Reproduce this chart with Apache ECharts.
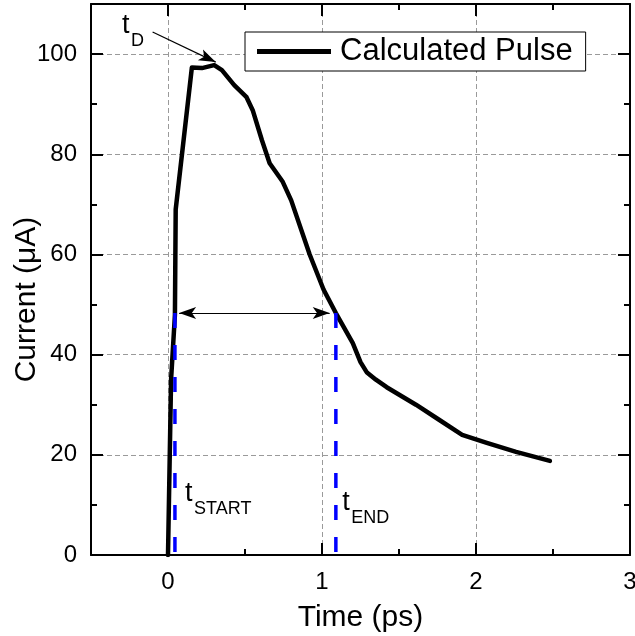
<!DOCTYPE html>
<html>
<head>
<meta charset="utf-8">
<script src="https://cdn.jsdelivr.net/npm/echarts@6/dist/echarts.min.js"></script>
<style>
html,body{margin:0;padding:0;background:#fff;}
#chart{width:635px;height:636px;}
</style>
</head>
<body>
<div id="chart"></div>
<script>
// ---- data ----
const timePs = [0, 0.02, 0.045, 0.05, 0.155, 0.22, 0.3, 0.35, 0.43, 0.51, 0.55, 0.61, 0.66, 0.745, 0.8, 0.92, 1.01, 1.09, 1.2, 1.25, 1.29, 1.35, 1.42, 1.61, 1.76, 1.91, 2.07, 2.26, 2.48];
const currentUA = [0, 35, 48, 69, 97.3, 97.2, 97.8, 96.8, 93.8, 91.4, 88.8, 82.8, 78.2, 74.5, 70.8, 60, 53, 48.3, 42.3, 38.5, 36.5, 35, 33.5, 30, 27, 24, 22.4, 20.6, 18.8];
const xTickLabels = [0, 1, 2, 3];
const yTickLabels = [0, 20, 40, 60, 80, 100];
const tStart = 0.045;
const tEnd = 1.09;
const halfLevel = 48.3;
const fwhmArrow = [0.072, 1.05];       // double arrow ends (ps)
const tdArrowFrom = [-0.1, 104.4];     // t_D pointer start
const tdArrowTo = [0.31, 98.4];        // t_D pointer tip
const annotations = [
  {main: 't', sub: 'D', at: [-0.299, 103.8]},
  {main: 't', sub: 'START', at: [0.111, 10.4]},
  {main: 't', sub: 'END', at: [1.132, 8.6]}
];

const FONT = '"Liberation Sans", Arial, sans-serif';
const pulse = timePs.map((t, i) => [t, currentUA[i]]);

const chart = echarts.init(document.getElementById('chart'), null, {renderer: 'canvas'});

function xAxisDef(pos, major) {
  return {
    type: 'value', min: -0.5, max: 3, interval: 0.5, position: pos,
    axisLine: {show: major, onZero: false, lineStyle: {color: '#000', width: 2}},
    axisTick: major ? {show: true, inside: true, length: 12, lineStyle: {color: '#000', width: 2}, customValues: xTickLabels}
                    : {show: true, inside: true, length: 6, lineStyle: {color: '#000', width: 2}},
    axisLabel: (major && pos === 'bottom') ? {show: true, customValues: xTickLabels, fontSize: 24, color: '#000', fontFamily: FONT, margin: 15} : {show: false},
    splitLine: (major && pos === 'bottom') ? {show: true, lineStyle: {color: '#9a9a9a', width: 1, type: [5, 3]}} : {show: false},
    name: (major && pos === 'bottom') ? 'Time (ps)' : '',
    nameLocation: 'middle', nameGap: 48, nameMoveOverlap: false,
    nameTextStyle: {fontSize: 30, color: '#000', fontFamily: FONT}
  };
}
function yAxisDef(pos, major) {
  return {
    type: 'value', min: 0, max: 110, interval: 10, position: pos,
    axisLine: {show: major, onZero: false, lineStyle: {color: '#000', width: 2}},
    axisTick: major ? {show: true, inside: true, length: 12, lineStyle: {color: '#000', width: 2}, customValues: yTickLabels}
                    : {show: true, inside: true, length: 6, lineStyle: {color: '#000', width: 2}},
    axisLabel: (major && pos === 'left') ? {show: true, customValues: yTickLabels, fontSize: 24, color: '#000', fontFamily: FONT, margin: 14} : {show: false},
    splitLine: (major && pos === 'left') ? {show: true, lineStyle: {color: '#9a9a9a', width: 1, type: [5, 3]}} : {show: false},
    name: (major && pos === 'left') ? 'Current (μA)' : '',
    nameLocation: 'middle', nameGap: 49, nameMoveOverlap: false,
    nameTextStyle: {fontSize: 30, color: '#000', fontFamily: FONT, padding: [0, 40, 0, 0]}
  };
}

const option = {
  animation: false,
  backgroundColor: '#fff',
  grid: {left: 91, right: 5, top: 4, bottom: 81, containLabel: false, outerBoundsMode: 'none'},
  legend: {
    data: ['Calculated Pulse'],
    left: 245, top: 32,
    icon: 'rect', itemWidth: 74, itemHeight: 5, itemGap: 10,
    padding: [4, 13, 4, 12],
    borderColor: '#000', borderWidth: 1, backgroundColor: '#fff',
    itemStyle: {color: '#000'},
    textStyle: {fontSize: 31, color: '#000', fontFamily: FONT, padding: [0, 0, 0, 4]}
  },
  xAxis: [xAxisDef('bottom', true), xAxisDef('bottom', false), xAxisDef('top', true), xAxisDef('top', false)],
  yAxis: [yAxisDef('left', true), yAxisDef('left', false), yAxisDef('right', true), yAxisDef('right', false)],
  series: [
    {
      name: 'Calculated Pulse', type: 'line', data: pulse,
      xAxisIndex: 0, yAxisIndex: 0,
      symbol: 'none', z: 4,
      lineStyle: {color: '#000', width: 4.5, join: 'round', cap: 'round'},
      itemStyle: {color: '#000'},
      markLine: {
        silent: true, animation: false,
        symbol: ['arrow', 'arrow'], symbolSize: [9, 17],
        label: {show: false},
        lineStyle: {color: '#000', width: 1.2, type: 'solid'},
        data: [
          [{coord: [fwhmArrow[0], halfLevel]}, {coord: [fwhmArrow[1], halfLevel]}],
          [{coord: tdArrowFrom, symbol: 'none'}, {coord: tdArrowTo, symbol: 'arrow'}]
        ]
      }
    },
    {
      name: 'tStart', type: 'line', data: [[tStart, halfLevel], [tStart, 0]],
      xAxisIndex: 0, yAxisIndex: 0, symbol: 'none', z: 5, silent: true,
      lineStyle: {color: '#0000ff', width: 3.5, type: [15, 17]}
    },
    {
      name: 'tEnd', type: 'line', data: [[tEnd, halfLevel], [tEnd, 0]],
      xAxisIndex: 0, yAxisIndex: 0, symbol: 'none', z: 5, silent: true,
      lineStyle: {color: '#0000ff', width: 3.5, type: [15, 17]}
    }
  ]
};
chart.setOption(option);

// subscript annotations positioned through the chart's own scales
const graphics = [];
annotations.forEach(a => {
  const p = chart.convertToPixel({gridIndex: 0}, a.at);
  graphics.push({type: 'text', x: p[0], y: p[1] - 0.35 * 27, z: 10,
    style: {text: a.main, font: '27px ' + FONT, fill: '#000', align: 'left', verticalAlign: 'middle'}});
  graphics.push({type: 'text', x: p[0] + 9, y: p[1] + 12 - 0.35 * 18, z: 10,
    style: {text: a.sub, font: '18px ' + FONT, fill: '#000', align: 'left', verticalAlign: 'middle'}});
});
chart.setOption({graphic: graphics});
</script>
</body>
</html>
